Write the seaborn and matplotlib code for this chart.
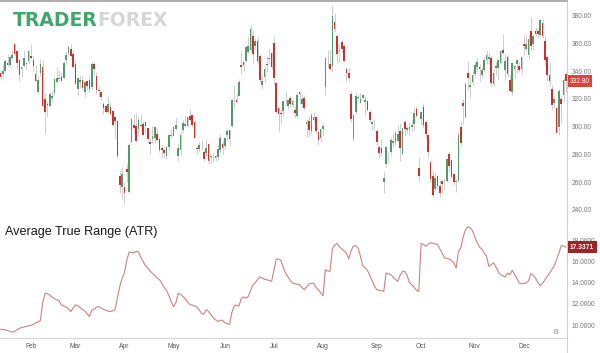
import numpy as np
import pandas as pd
import matplotlib
matplotlib.use('Agg')
import matplotlib.pyplot as plt
import seaborn as sns

# 日线蜡烛图 (2018-01-12 ~ 2018-12-31)
opens = [
    338.6, 337.9, 340.5, 345.7, 344.5, 349.4, 360.0, 354.6, 348.3, 341.5, 344.0, 345.1, 347.5,
    351.0, 348.4, 337.9, 325.2, 338.9, 343.3, 319.9, 316.1, 315.0, 320.8, 324.5, 332.5, 334.5, 336.0, 335.5, 347.8, 353.5, 356.3, 352.6,
    345.0, 326.9, 332.4, 333.8, 325.4, 332.9, 333.5, 328.6, 344.9, 336.8, 326.4, 325.0, 316.5, 314.9, 310.3, 313.9, 311.3, 307.3, 304.0, 264.6, 256.5,
    256.3, 269.8, 252.8, 289.3, 301.0, 300.4, 298.0, 300.7, 302.3, 303.6, 299.0, 288.9, 291.1, 291.7, 295.0, 291.3, 285.0, 283.0, 278.8, 285.4, 293.6,
    293.2, 298.6, 278.8, 283.0, 297.5, 300.8, 300.4, 307.5, 308.7, 303.3, 285.0, 283.8, 285.0, 281.6, 281.0, 287.8, 277.8, 278.4, 277.6, 278.5, 283.3, 287.2,
    285.9, 294.3, 297.7, 300.5, 316.2, 319.0, 322.5, 344.7, 346.7, 347.2, 353.8, 355.4, 365.2, 358.0, 362.0, 351.2, 330.1, 336.1, 345.0, 348.7, 353.2,
    360.1, 331.8, 313.8, 310.2, 311.0, 322.0, 315.0, 321.0, 315.6, 311.7, 308.0, 325.0, 316.3, 321.0, 301.8, 304.4, 296.7, 304.8, 307.0, 295.9, 292.2,
    298.0, 328.4, 347.8, 345.5, 343.8, 375.9, 365.5, 354.3, 361.1, 358.5, 341.9, 339.1, 323.8, 291.5, 310.6, 320.9, 317.0, 320.7, 318.0, 318.4, 310.3, 302.3, 302.0,
    296.9, 285.1, 284.8, 260.1, 273.3, 279.5, 281.4, 288.0, 288.7, 290.0, 296.7, 280.5, 303.6, 297.7, 298.5, 300.0, 302.0, 312.9, 270.3,
    305.8, 313.9, 303.3, 293.9, 274.7, 264.5, 255.3, 264.6, 257.5, 261.0, 259.1, 260.7, 280.5, 275.8, 265.9, 260.0, 261.0, 300.0, 316.8, 307.2, 339.0, 328.9, 332.6,
    338.3, 343.3, 343.0, 337.1, 341.0, 347.9, 349.0, 349.3, 330.8, 342.7, 342.3, 346.0, 355.4, 341.0, 350.0, 334.0, 325.0, 341.6, 345.0, 344.0, 341.8,
    360.0, 356.0, 352.0, 369.0, 360.0, 369.0, 369.0, 366.0, 375.0, 362.0, 350.5, 337.6, 327.0, 317.0, 313.5, 300.0, 319.8, 323.1, 337.8,
]
closes = [
    336.2, 340.1, 347.2, 344.6, 350.0, 351.6, 352.8, 345.9, 337.6, 342.9, 349.5, 345.8, 354.3,
    349.3, 343.8, 333.1, 334.0, 345.0, 315.2, 310.4, 315.7, 323.7, 322.3, 334.1, 335.5, 334.8, 333.3, 346.2, 352.1, 357.4, 351.0, 343.1,
    330.9, 335.1, 333.4, 328.2, 332.3, 329.1, 327.2, 345.5, 341.8, 326.6, 325.6, 321.4, 313.6, 310.6, 316.5, 309.1, 301.5, 304.2, 279.2, 257.8, 266.1,
    252.5, 267.5, 286.9, 305.7, 299.3, 289.7, 304.7, 300.9, 294.1, 300.3, 291.2, 287.7, 293.4, 300.1, 290.2, 283.4, 283.5, 280.7, 285.5, 294.1, 293.9,
    299.9, 301.2, 284.5, 294.1, 302.8, 302.0, 306.9, 305.0, 301.1, 292.0, 284.2, 286.5, 284.5, 276.8, 284.5, 275.0, 279.1, 277.9, 278.9, 283.8, 291.7, 284.7,
    291.8, 296.7, 291.1, 319.5, 316.1, 317.7, 332.1, 342.8, 344.8, 357.7, 358.2, 370.8, 352.6, 362.2, 347.5, 333.6, 333.0, 342.0, 344.5, 349.9, 342.9,
    335.1, 310.9, 309.2, 308.9, 318.5, 322.5, 319.0, 316.7, 318.9, 310.1, 322.7, 323.9, 320.2, 313.6, 303.2, 297.4, 308.7, 306.7, 297.2, 290.2, 298.1,
    300.8, 349.5, 348.2, 342.0, 379.6, 370.3, 352.5, 355.5, 356.4, 347.6, 338.7, 335.5, 305.5, 308.4, 321.9, 321.6, 320.1, 322.8, 319.3, 311.9, 305.0, 303.2, 301.7,
    289.0, 280.7, 281.0, 263.2, 285.5, 279.4, 290.5, 289.5, 295.2, 294.8, 285.0, 299.0, 298.3, 299.1, 299.7, 301.0, 309.6, 307.5, 264.8,
    310.7, 301.0, 294.8, 281.8, 262.0, 250.6, 262.8, 256.9, 252.2, 258.8, 259.6, 276.6, 271.8, 263.9, 260.0, 261.0, 294.1, 288.5, 314.9, 330.9, 334.9, 329.9, 337.3,
    344.3, 346.4, 341.4, 341.1, 348.2, 351.4, 350.5, 331.3, 338.7, 344.0, 348.4, 354.3, 353.5, 347.5, 338.2, 325.8, 346.0, 343.9, 347.9, 341.2, 350.5,
    358.5, 359.7, 363.1, 358.0, 365.2, 366.8, 366.6, 376.8, 365.7, 348.4, 337.0, 333.0, 315.4, 319.8, 295.4, 326.1, 316.1, 333.9, 332.8,
]
highs = [
    340.4, 345.0, 349.0, 352.3, 350.6, 355.4, 360.5, 355.0, 349.0, 344.0, 355.0, 346.9, 355.6,
    359.7, 351.0, 344.5, 336.5, 349.0, 348.0, 324.5, 318.2, 325.1, 326.2, 334.1, 343.1, 340.8, 339.7, 347.4, 354.9, 359.0, 359.9, 355.2,
    348.3, 335.2, 337.0, 336.4, 332.5, 333.4, 336.5, 347.2, 347.0, 339.8, 329.6, 326.1, 318.0, 316.0, 322.4, 318.0, 311.6, 307.6, 304.3, 268.7, 270.9,
    260.3, 273.3, 288.4, 306.3, 309.3, 310.2, 307.1, 308.9, 304.3, 303.9, 299.1, 292.2, 300.2, 300.8, 299.0, 291.5, 287.0, 285.2, 285.9, 294.5, 298.0,
    300.8, 306.9, 288.0, 296.9, 305.0, 307.8, 307.0, 312.9, 309.1, 304.9, 286.9, 288.8, 290.4, 282.9, 291.2, 288.0, 279.9, 281.1, 279.6, 286.5, 295.0, 290.4,
    291.9, 299.0, 297.8, 320.0, 330.0, 324.5, 334.7, 354.9, 347.2, 358.8, 364.8, 373.7, 370.0, 364.0, 365.0, 352.3, 337.4, 344.0, 350.7, 357.0, 353.8,
    364.8, 332.0, 314.4, 312.0, 318.5, 326.0, 320.0, 323.0, 319.6, 315.0, 324.7, 325.5, 323.5, 323.2, 305.5, 307.7, 309.6, 310.7, 307.0, 296.0, 298.3,
    303.0, 350.0, 355.0, 355.0, 387.5, 382.0, 367.0, 360.0, 363.0, 359.0, 342.5, 342.3, 325.5, 308.5, 324.8, 323.9, 324.4, 323.9, 322.4, 318.9, 311.9, 304.6, 305.3,
    298.2, 286.8, 291.2, 268.4, 286.0, 282.0, 292.5, 295.0, 297.3, 300.9, 302.6, 300.0, 305.6, 300.6, 302.8, 304.6, 313.9, 315.0, 278.0,
    311.4, 316.8, 304.6, 294.0, 274.9, 267.8, 266.8, 265.5, 262.3, 261.0, 263.3, 277.2, 282.8, 276.2, 265.9, 262.0, 296.0, 304.0, 320.0, 333.0, 347.5, 336.0, 341.0,
    347.4, 349.7, 345.0, 343.0, 350.0, 355.0, 354.0, 352.0, 342.2, 346.6, 348.6, 355.0, 367.0, 353.0, 351.5, 337.3, 346.8, 344.8, 348.8, 347.0, 351.0,
    366.0, 367.0, 367.0, 379.5, 365.9, 371.9, 371.0, 377.0, 377.9, 365.7, 351.6, 347.0, 330.0, 322.2, 314.5, 327.0, 322.2, 336.2, 339.2,
]
lows = [
    333.8, 334.8, 339.0, 343.7, 343.0, 348.5, 351.0, 341.4, 333.3, 335.7, 342.8, 340.8, 345.6,
    348.6, 340.5, 333.0, 323.7, 336.5, 314.0, 294.8, 307.0, 314.5, 318.8, 322.0, 331.6, 333.2, 333.3, 334.8, 345.0, 352.0, 350.0, 342.2,
    330.6, 322.0, 328.0, 327.0, 321.7, 326.2, 325.1, 326.6, 336.3, 323.9, 321.4, 319.0, 309.0, 309.6, 310.2, 308.3, 300.4, 291.4, 277.2, 252.1, 248.2,
    244.6, 260.0, 252.0, 288.2, 295.0, 289.2, 293.7, 299.1, 293.7, 295.7, 288.5, 280.5, 288.5, 288.2, 289.8, 282.0, 278.5, 277.4, 276.8, 283.3, 292.0,
    293.1, 297.8, 275.0, 279.5, 295.2, 299.5, 300.1, 304.5, 299.9, 291.8, 280.5, 281.6, 283.3, 275.6, 278.8, 273.4, 274.0, 274.9, 275.6, 276.1, 281.6, 280.4,
    283.8, 290.3, 286.7, 299.5, 313.6, 317.2, 322.5, 338.0, 340.0, 346.6, 352.6, 354.5, 346.3, 356.3, 345.0, 332.0, 327.3, 332.3, 339.5, 346.0, 341.5,
    329.9, 309.3, 296.2, 302.0, 308.0, 316.0, 312.5, 314.0, 314.0, 306.1, 306.0, 316.5, 314.0, 312.0, 292.9, 292.6, 294.5, 303.6, 295.5, 286.5, 289.1,
    293.0, 323.2, 342.5, 341.0, 339.2, 368.0, 345.7, 347.0, 353.0, 347.0, 332.0, 333.1, 303.5, 290.0, 309.0, 319.0, 317.0, 319.4, 308.8, 311.1, 303.7, 297.7, 298.6,
    286.6, 277.2, 278.8, 252.3, 271.0, 273.6, 278.6, 285.2, 286.5, 290.0, 275.5, 280.5, 293.6, 295.4, 293.6, 296.5, 296.6, 306.9, 260.6,
    301.1, 299.2, 291.6, 277.7, 260.0, 249.0, 253.3, 254.0, 249.0, 252.0, 254.5, 260.0, 267.6, 263.0, 258.0, 253.0, 260.0, 286.0, 302.0, 306.0, 326.3, 320.5, 329.9,
    335.9, 339.2, 332.5, 335.0, 339.5, 345.0, 345.5, 330.0, 329.2, 337.6, 334.0, 345.0, 352.6, 334.0, 336.0, 325.5, 323.2, 335.5, 338.5, 339.8, 338.2,
    352.0, 355.0, 348.8, 355.2, 355.5, 365.5, 364.2, 365.5, 364.3, 343.9, 333.2, 329.1, 313.0, 313.2, 295.2, 294.1, 302.9, 318.4, 325.3,
]
# ATR(14) 曲线，同样从图上读取
atr = [
    9.62, 9.60, 9.56, 9.50, 9.42, 9.35, 9.40, 9.58, 9.70, 9.78, 9.84, 9.88, 9.94,
    10.00, 10.08, 10.22, 10.30, 10.44, 12.10, 13.02, 12.95, 12.85, 12.65, 12.49, 12.40, 12.30, 11.92, 11.80, 11.70, 11.55, 11.29, 11.60,
    11.92, 11.85, 11.65, 11.50, 11.35, 11.10, 10.82, 11.40, 11.50, 11.70, 11.76, 11.62, 11.50, 11.40, 11.32, 11.29, 11.35, 11.50, 12.60, 13.65, 14.40,
    14.95, 16.10, 16.87, 16.85, 16.80, 16.95, 16.90, 16.40, 16.00, 15.60, 15.40, 15.10, 14.88, 14.70, 14.45, 14.28, 13.95, 13.55, 13.30, 12.80, 12.24,
    11.75, 12.10, 13.00, 12.90, 12.70, 12.50, 12.20, 11.95, 11.88, 11.83, 11.70, 11.45, 11.10, 11.05, 11.45, 11.30, 11.00, 10.72, 10.50, 10.35, 10.48, 10.45,
    10.25, 10.15, 10.09, 11.20, 11.80, 11.90, 11.80, 12.50, 12.65, 12.55, 12.70, 13.30, 13.80, 14.00, 14.30, 14.55, 14.45, 14.32, 14.28, 14.20, 14.13,
    15.20, 16.24, 16.22, 16.10, 15.40, 14.90, 14.55, 14.20, 13.97, 13.90, 13.85, 13.80, 13.55, 13.34, 13.60, 13.88, 13.95, 13.97, 13.55, 13.34, 13.05,
    12.77, 15.23, 15.10, 15.07, 17.18, 17.55, 17.69, 17.40, 17.18, 17.00, 16.80, 16.24, 17.00, 17.45, 17.48, 17.28, 16.50, 15.60, 15.40, 15.17, 14.70, 14.20, 13.70,
    13.34, 13.30, 13.25, 13.18, 14.91, 14.85, 14.76, 14.55, 14.30, 14.13, 14.70, 15.05, 15.07, 14.70, 14.00, 13.81, 13.55, 13.30, 13.18,
    17.69, 17.60, 17.43, 17.60, 17.75, 17.72, 17.65, 17.59, 17.20, 16.80, 16.33, 16.30, 16.24, 16.10, 15.86, 15.39, 16.96, 17.28, 18.30, 19.00, 19.26, 19.17, 18.90,
    18.30, 17.75, 17.37, 17.15, 16.80, 16.49, 15.54, 15.70, 15.86, 15.50, 15.05, 14.76, 14.65, 14.54, 14.91, 14.76, 15.17, 14.80, 14.40, 13.97, 13.90,
    13.92, 13.97, 14.20, 14.85, 14.70, 14.44, 14.00, 13.72, 13.95, 14.28, 14.60, 14.91, 15.23, 15.60, 16.17, 16.80, 17.50, 17.45, 17.34,
]
price_ticks = [240, 260, 280, 300, 320, 340, 360, 380]
atr_ticks = [10, 12, 14, 16, 18]
last_price_label = '332.80'
last_atr_label = '17.3371'

# 2018 美股休市日
holidays = ['2018-01-15', '2018-02-19', '2018-03-30', '2018-05-28', '2018-07-04',
            '2018-09-03', '2018-11-22', '2018-12-05', '2018-12-25']
dates = pd.bdate_range('2018-01-12', '2018-12-31', freq='C', holidays=holidays)

df = pd.DataFrame({'date': dates, 'open': opens, 'high': highs,
                   'low': lows, 'close': closes, 'atr': atr})
df['idx'] = np.arange(len(df))
df['up'] = df['close'] >= df['open']

# 每月第一个交易日作为x轴刻度（去掉不完整的1月）
month_first = df.groupby(df['date'].dt.month).first().iloc[1:]
month_pos = month_first['idx'].tolist()
month_labels = month_first['date'].dt.strftime('%b').tolist()

sns.set_style('white')
plt.rcParams['font.family'] = ['Liberation Sans', 'DejaVu Sans']

fig = plt.figure(figsize=(6, 3.53), dpi=100)
ax1 = fig.add_axes([0, 133 / 353, 567 / 600, 219 / 353])
ax2 = fig.add_axes([0, 15 / 353, 567 / 600, 118 / 353])

green = '#55996b'
red = '#c83330'
colors = np.where(df['up'], green, red)

# 蜡烛图：影线 + 实体
ax1.vlines(df['idx'], df['low'], df['high'], color='#c6c6c6', lw=0.6, zorder=1)
body = (df['close'] - df['open']).abs().clip(lower=0.5)
ax1.bar(df['idx'], body, bottom=df[['open', 'close']].min(axis=1),
        width=0.7, color=colors, lw=0, zorder=2)

# ATR 曲线
sns.lineplot(data=df, x='idx', y='atr', ax=ax2, color='#c98385', lw=0.8)

for ax in (ax1, ax2):
    ax.set_xlim(-0.27, 242.45)
    ax.yaxis.tick_right()
    ax.tick_params(axis='y', length=0, pad=3.5, labelsize=4.8, labelcolor='#777777')
    ax.spines['left'].set_visible(False)
    ax.spines['right'].set_color('#cfcfcf')
    ax.spines['right'].set_linewidth(0.8)
    ax.set_xlabel('')
    ax.set_ylabel('')

ax1.set_ylim(232.7, 390.7)
ax1.set_yticks(price_ticks)
ax1.set_yticklabels([f'{v:.2f}' for v in price_ticks])
ax1.set_xticks([])
ax1.spines['top'].set_color('#9e9e9e')
ax1.spines['top'].set_linewidth(1.2)
ax1.spines['bottom'].set_color('#d0d0d0')
ax1.spines['bottom'].set_linewidth(0.8)

ax2.set_ylim(8.8, 19.9)
ax2.set_yticks(atr_ticks)
ax2.set_yticklabels([f'{v:.4f}' for v in atr_ticks])
ax2.set_xticks(month_pos)
ax2.set_xticklabels(month_labels)
ax2.tick_params(axis='x', length=0, pad=3.5, labelsize=4.8, labelcolor='#555555')
ax2.spines['top'].set_visible(False)
ax2.spines['bottom'].set_color('#d6d6d6')
ax2.spines['bottom'].set_linewidth(0.8)

# 右侧最新值标签
ax1.annotate(last_price_label, xy=(1, closes[-1]), xycoords=('axes fraction', 'data'),
             xytext=(2.2, 0), textcoords='offset points', ha='left', va='center',
             fontsize=4.8, color='white',
             bbox=dict(boxstyle='square,pad=0.35', fc='#d9443b', ec='none'))
ax2.annotate(last_atr_label, xy=(1, atr[-1]), xycoords=('axes fraction', 'data'),
             xytext=(2.2, 0), textcoords='offset points', ha='left', va='center',
             fontsize=4.8, color='white', fontweight='bold',
             bbox=dict(boxstyle='square,pad=0.35', fc='#9f2326', ec='none'))

ax2.text(0.009, 0.895, 'Average True Range (ATR)', transform=ax2.transAxes,
         ha='left', va='center', fontsize=9.1, color='#1a1a1a')
ax2.text(0.98, 0.05, '⚙', transform=ax2.transAxes, ha='center', va='center',
         fontsize=5, color='#8a8a8a')

# 右侧竖线延伸到底部
fig.add_artist(plt.Line2D([567 / 600, 567 / 600], [0, 15 / 353], transform=fig.transFigure,
                          color='#cfcfcf', lw=0.8))

# 水印 logo
fig.text(13 / 600, 1 - 20.5 / 353, 'TRADER', color='#3fa66c', fontsize=13.5,
         fontweight='bold', family='DejaVu Sans', ha='left', va='center')
fig.text(97 / 600, 1 - 20.5 / 353, 'FOREX', color='#d6d6d6', fontsize=13.5,
         fontweight='bold', family='DejaVu Sans', ha='left', va='center')

fig.savefig('out.png', dpi=100)
